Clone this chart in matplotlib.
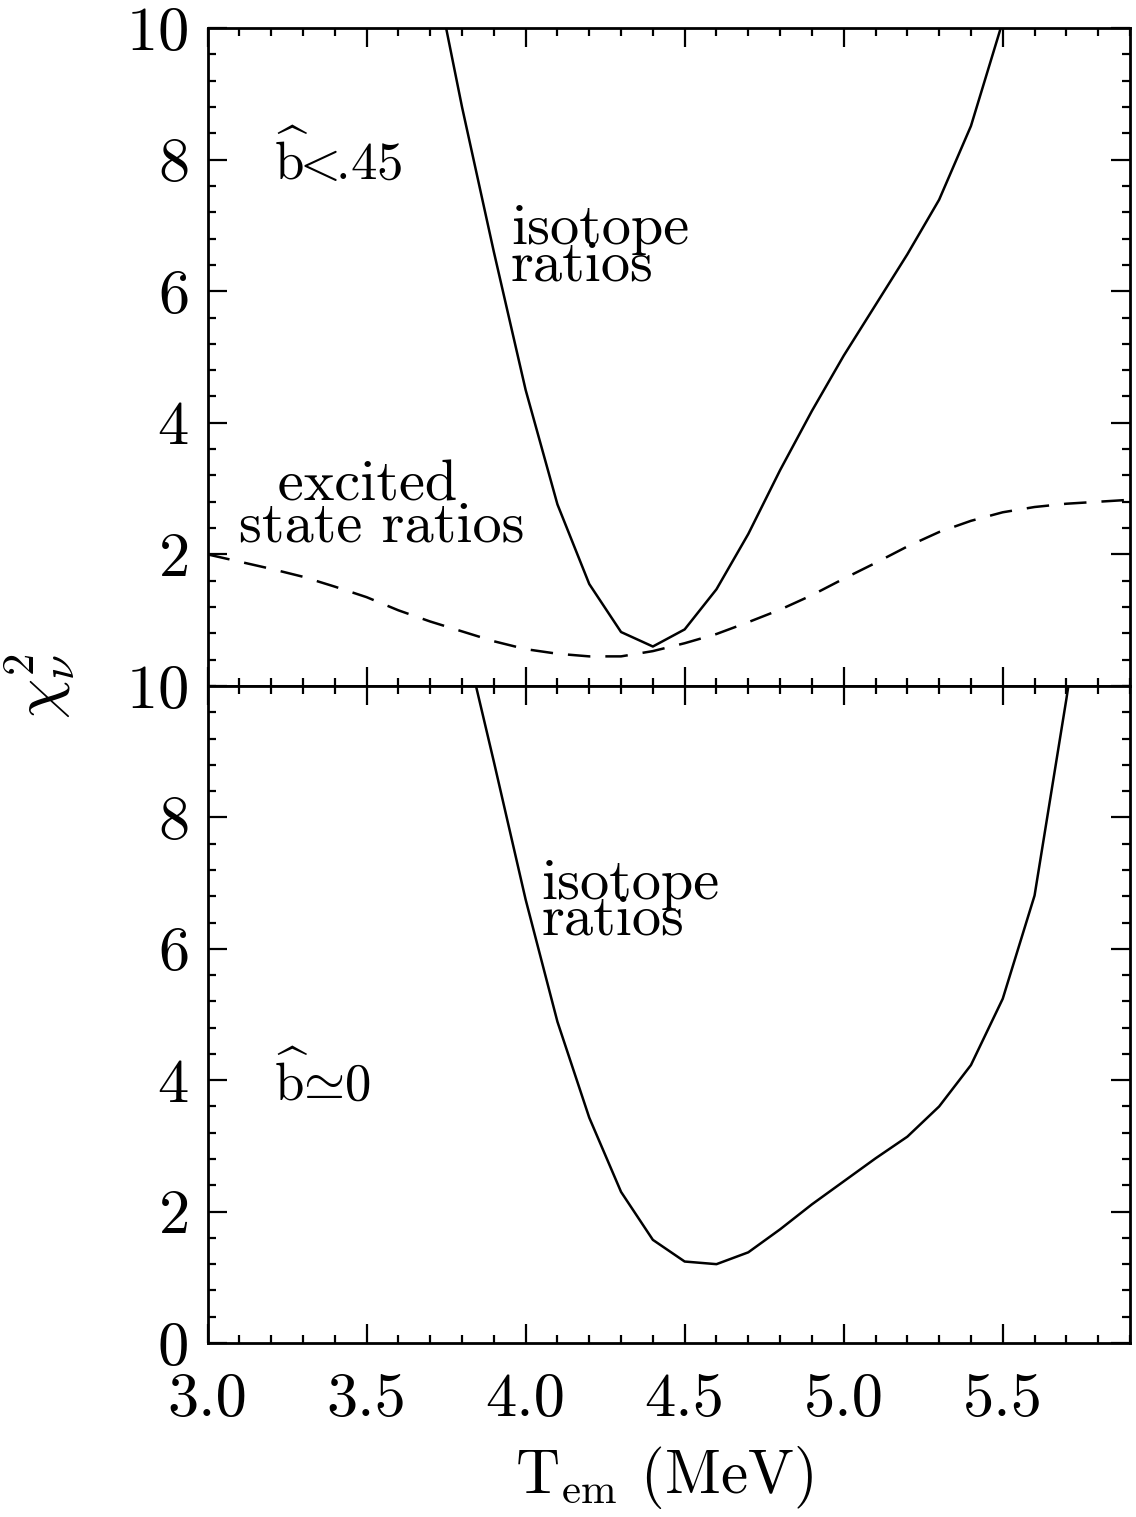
import matplotlib
matplotlib.use('Agg')
import matplotlib.pyplot as plt
import numpy as np
from matplotlib.ticker import MultipleLocator, FormatStrFormatter

plt.rcParams['font.family'] = 'cmr10'
plt.rcParams['mathtext.fontset'] = 'cm'
plt.rcParams['axes.formatter.use_mathtext'] = True

# top panel (b < .45)
t_iso_top = [3.7, 3.8, 3.9, 4.0, 4.1, 4.2, 4.3, 4.4, 4.5, 4.6, 4.7, 4.8, 4.9,
             5.0, 5.1, 5.2, 5.3, 5.4, 5.5, 5.6]
chi_iso_top = [11.2, 8.8, 6.6, 4.5, 2.76, 1.55, 0.82, 0.6, 0.86, 1.47, 2.31,
               3.28, 4.18, 5.02, 5.79, 6.56, 7.39, 8.51, 10.1, 13.0]

t_exc = [3.0, 3.1, 3.2, 3.3, 3.4, 3.5, 3.6, 3.7, 3.8, 3.9, 4.0, 4.1, 4.2, 4.3,
         4.4, 4.5, 4.6, 4.7, 4.8, 4.9, 5.0, 5.1, 5.2, 5.3, 5.4, 5.5, 5.6, 5.7,
         5.8, 5.9]
chi_exc = [2.00, 1.89, 1.78, 1.66, 1.51, 1.35, 1.15, 0.98, 0.83, 0.68, 0.56,
           0.49, 0.45, 0.45, 0.53, 0.65, 0.79, 0.97, 1.16, 1.38, 1.63, 1.87,
           2.12, 2.34, 2.51, 2.64, 2.72, 2.77, 2.80, 2.83]

# bottom panel (b ~ 0)
t_iso_bot = [3.8, 3.9, 4.0, 4.1, 4.2, 4.3, 4.4, 4.5, 4.6, 4.7, 4.8, 4.9, 5.0,
             5.1, 5.2, 5.3, 5.4, 5.5, 5.6, 5.7, 5.8]
chi_iso_bot = [10.9, 8.85, 6.75, 4.89, 3.43, 2.30, 1.57, 1.24, 1.20, 1.38,
               1.73, 2.11, 2.46, 2.81, 3.14, 3.60, 4.23, 5.24, 6.81, 9.8, 13.0]

fig = plt.figure(figsize=(11.36, 15.17), dpi=100)
ax1 = fig.add_axes([0.1827, 0.5478, 0.812, 0.43375])
ax2 = fig.add_axes([0.1827, 0.1147, 0.812, 0.4331])

for ax in (ax1, ax2):
    ax.set_xlim(3.0, 5.9)
    ax.set_ylim(0, 10)
    ax.xaxis.set_major_locator(MultipleLocator(0.5))
    ax.xaxis.set_minor_locator(MultipleLocator(0.1))
    ax.yaxis.set_major_locator(MultipleLocator(2))
    ax.yaxis.set_minor_locator(MultipleLocator(0.4))
    ax.tick_params(which='both', direction='in', top=True, right=True,
                   width=1.6, labelsize=45, pad=14)
    ax.tick_params(axis='x', pad=21)
    ax.tick_params(which='major', length=14)
    ax.tick_params(which='minor', length=6)
    for s in ax.spines.values():
        s.set_linewidth(2.0)

ax1.plot(t_iso_top, chi_iso_top, color='black', lw=1.8)
ax1.plot(t_exc, chi_exc, color='black', lw=1.8, dashes=(9, 6))
ax1.set_yticks([2, 4, 6, 8, 10])
ax1.tick_params(labelbottom=False)

ax2.plot(t_iso_bot, chi_iso_bot, color='black', lw=1.8)
ax2.xaxis.set_major_formatter(FormatStrFormatter('%.1f'))

fs = 42
ax1.text(3.21, 7.69, r'$\widehat{\mathrm{b}}\hspace{-0.28}<\hspace{-0.3}$.45',
         fontsize=38)
ax1.text(3.954, 6.17, 'isotope\nratios', fontsize=fs, va='baseline',
         linespacing=0.62)
ax1.text(3.10, 2.20, '  excited\nstate ratios', fontsize=fs, va='baseline',
         linespacing=0.75)

ax2.text(4.05, 6.21, 'isotope\nratios', fontsize=fs, va='baseline',
         linespacing=0.62)
ax2.text(3.21, 3.70, r'$\widehat{\mathrm{b}}\hspace{-0.2}\simeq\hspace{-0.2}0$',
         fontsize=38)

fig.text(0.035, 0.548, r'$\chi^2_\nu$', fontsize=46, rotation=90,
         ha='center', va='center')
fig.text(0.585, 0.026, r'$\mathrm{T_{em}}$ (MeV)', fontsize=44,
         ha='center', va='center')

fig.savefig('out.png', dpi=100)
